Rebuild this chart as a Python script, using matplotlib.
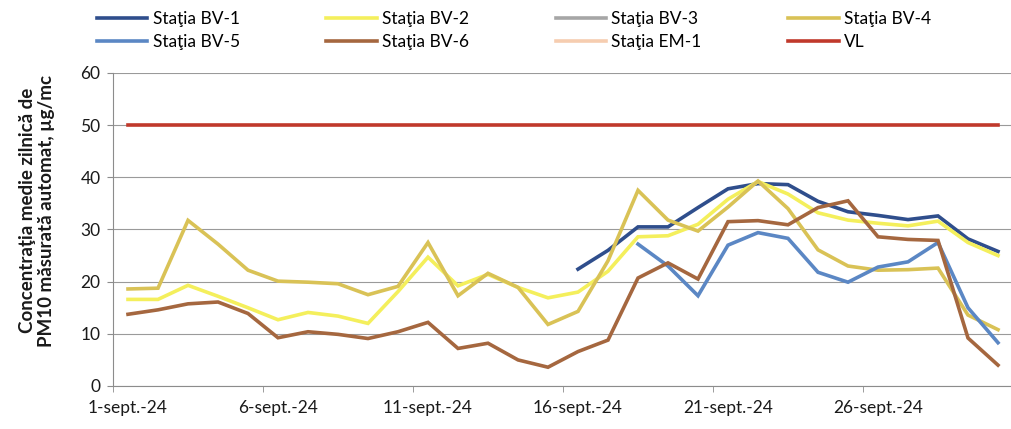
import numpy as np
import matplotlib
matplotlib.use("Agg")
import matplotlib.pyplot as plt
from matplotlib.ticker import FixedLocator

plt.rcParams["font.family"] = ["Lato", "DejaVu Sans"]

days = list(range(1, 31))
tick_days = [1, 6, 11, 16, 21, 26]
tick_labels = ["1-sept.-24", "6-sept.-24", "11-sept.-24", "16-sept.-24", "21-sept.-24", "26-sept.-24"]

nan = np.nan
bv1 = [nan] * 15 + [22.4, 26.0, 30.5, 30.5, 34.2, 37.8, 38.8, 38.6, 35.4, 33.4,
                    32.7, 31.9, 32.6, 28.2, 25.8]
bv2 = [16.6, 16.6, 19.3, 17.2, 15.0, 12.7, 14.1, 13.4, 12.0, 18.1,
       24.7, 19.2, 21.4, 18.9, 16.9, 18.0, 22.0, 28.6, 28.8, 31.0,
       35.8, 39.2, 36.8, 33.2, 31.8, 31.2, 30.7, 31.6, 27.5, 25.0]
bv3 = [nan] * 30
bv4 = [18.6, 18.75, 31.75, 27.2, 22.2, 20.1, 19.9, 19.6, 17.5, 19.1,
       27.5, 17.3, 21.6, 18.9, 11.8, 14.3, 24.0, 37.5, 31.8, 29.7,
       34.3, 39.3, 34.0, 26.1, 23.0, 22.2, 22.3, 22.6, 13.6, 10.8]
bv5 = [nan] * 17 + [27.2, 23.0, 17.3, 27.0, 29.4, 28.3, 21.8, 19.9,
                    22.8, 23.8, 27.5, 15.0, 8.3]
bv6 = [13.75, 14.6, 15.75, 16.1, 13.9, 9.25, 10.4, 9.9, 9.1, 10.4,
       12.2, 7.2, 8.2, 5.0, 3.6, 6.6, 8.8, 20.7, 23.6, 20.5,
       31.5, 31.7, 30.9, 34.2, 35.5, 28.6, 28.1, 27.9, 9.2, 4.0]
em1 = [nan] * 30
vl = [50] * 30

fig = plt.figure(figsize=(10.11, 4.29), dpi=100)
ax = fig.add_axes([113 / 1011, (429 - 386) / 429, 900 / 1011, 313 / 429])

series = [
    ("Staţia BV-1", bv1, "#2F4E8C"),
    ("Staţia BV-2", bv2, "#F4EF5C"),
    ("Staţia BV-3", bv3, "#A6A6A6"),
    ("Staţia BV-4", bv4, "#D9C256"),
    ("Staţia BV-5", bv5, "#5B87C4"),
    ("Staţia BV-6", bv6, "#A5673F"),
    ("Staţia EM-1", em1, "#F6CDB0"),
    ("VL", vl, "#C0392B"),
]
handles = {}
for name, vals, col in series:
    (ln,) = ax.plot(days, vals, color=col, linewidth=2.6, label=name,
                    solid_joinstyle="miter")
    handles[name] = ln

ax.set_xlim(0.5, 30.5)
ax.set_ylim(0, 60)
ax.set_yticks(range(0, 61, 10))
ax.grid(axis="y", color="#9a9a9a", linewidth=0.8)
ax.set_axisbelow(True)
for s in ["top", "right"]:
    ax.spines[s].set_visible(False)
ax.spines["left"].set_color("#8c8c8c")
ax.spines["bottom"].set_color("#8c8c8c")

ax.set_xticks(tick_days)
ax.set_xticklabels(tick_labels)
ax.xaxis.set_minor_locator(FixedLocator([0.5 + 5 * i for i in range(7)]))
ax.tick_params(axis="x", which="major", length=0, pad=10, labelsize=12.5, colors="#1a1a1a")
ax.tick_params(axis="x", which="minor", length=4, color="#8c8c8c")
ax.tick_params(axis="y", length=4, color="#8c8c8c", pad=5, labelsize=12.5, labelcolor="#1a1a1a")

ax.set_ylabel("Concentraţia medie zilnică de\nPM10 măsurată automat, µg/mc",
              fontsize=13.5, fontweight="bold", color="#1a1a1a", linespacing=1.15)
ax.yaxis.set_label_coords(-0.064, 0.56)

order = ["Staţia BV-1", "Staţia BV-5", "Staţia BV-2", "Staţia BV-6",
         "Staţia BV-3", "Staţia EM-1", "Staţia BV-4", "VL"]
fig.legend([handles[n] for n in order], order, loc="upper left",
           bbox_to_anchor=(97 / 1011, 1 - 11 / 429), ncol=4, frameon=False,
           fontsize=12.5, handlelength=2.9, handletextpad=0.3,
           columnspacing=5.0, labelspacing=0.4, borderpad=0, borderaxespad=0)

fig.savefig("out.png", dpi=100)
